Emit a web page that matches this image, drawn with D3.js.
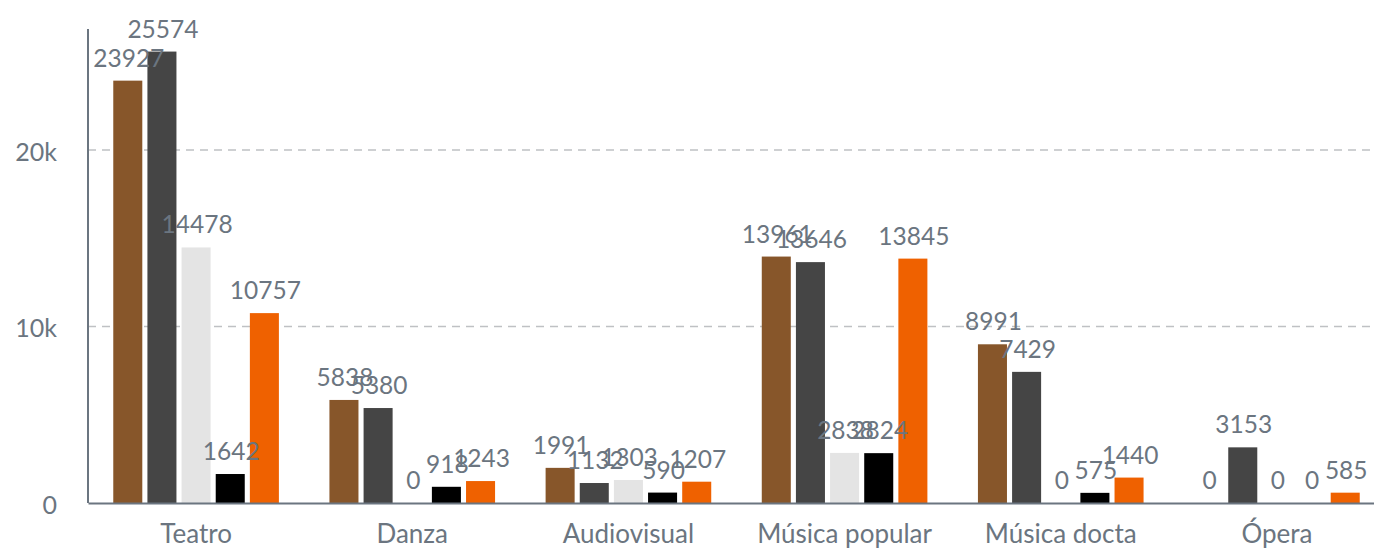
<!DOCTYPE html>
<html>
<head>
<meta charset="utf-8">
<script src="https://cdn.jsdelivr.net/npm/d3@7"></script>
<style>
  html, body { margin: 0; padding: 0; background: #fff; }
  svg { display: block; font-family: Lato, "Open Sans", sans-serif; }
</style>
</head>
<body>
<div id="chart-container"></div>
<script>
// Données du graphique
const categories = ["Teatro", "Danza", "Audiovisual", "Música popular", "Música docta", "Ópera"];
const seriesNames = ["Serie 1", "Serie 2", "Serie 3", "Serie 4", "Serie 5"];
const serie1 = [23927, 5838, 1991, 13961, 8991, 0];
const serie2 = [25574, 5380, 1132, 13646, 7429, 3153];
const serie3 = [14478, 0, 1303, 2838, 0, 0];
const serie4 = [1642, 918, 590, 2824, 575, 0];
const serie5 = [10757, 1243, 1207, 13845, 1440, 585];
const seriesValues = [serie1, serie2, serie3, serie4, serie5];
const yTicks = [0, 10000, 20000];
const colors = ["#87562a", "#454545", "#e4e4e4", "#000000", "#ef6100"];

function drawChart() {
    const width = 1374, height = 549;
    const margin = { top: 29, right: -11, bottom: 46, left: 88 };
    const textColor = "#6b7580";

    const svg = d3.select("#chart-container")
        .append("svg")
        .attr("width", width)
        .attr("height", height);

    const maxVal = d3.max(seriesValues.flat());

    const y = d3.scaleLinear()
        .domain([0, maxVal * 1.05])
        .range([height - margin.bottom, margin.top]);

    const x0 = d3.scaleBand()
        .domain(categories)
        .range([margin.left, width - margin.right])
        .padding(0);

    const x1 = d3.scaleBand()
        .domain(seriesNames)
        .range([0, x0.bandwidth()])
        .paddingInner(0.15)
        .paddingOuter(0.74);

    // Grille
    svg.append("g")
        .selectAll("line")
        .data(yTicks.filter(t => t > 0))
        .enter().append("line")
        .attr("x1", margin.left)
        .attr("x2", width)
        .attr("y1", d => y(d))
        .attr("y2", d => y(d))
        .attr("stroke", "#bfc1c4")
        .attr("stroke-width", 1.5)
        .attr("stroke-dasharray", "8,6");

    // Axe Y
    const yAxis = svg.append("g")
        .attr("transform", "translate(" + margin.left + ",0)")
        .call(d3.axisLeft(y).tickValues(yTicks).tickFormat(d3.format("~s")).tickSize(0).tickPadding(31));
    yAxis.select(".domain").attr("stroke", textColor).attr("stroke-width", 2)
        .attr("d", "M0," + y.range()[1] + "V" + y.range()[0]);
    yAxis.selectAll("text")
        .attr("fill", textColor)
        .attr("dy", "0.42em")
        .style("font-size", "25px")
        .style("font-family", "Lato, sans-serif");

    // Barres
    const data = [];
    categories.forEach((c, i) => {
        seriesNames.forEach((s, j) => data.push({ cat: c, serie: s, j: j, value: seriesValues[j][i] }));
    });

    svg.append("g")
        .selectAll("rect")
        .data(data)
        .enter().append("rect")
        .attr("x", d => x0(d.cat) + x1(d.serie))
        .attr("y", d => y(d.value))
        .attr("width", x1.bandwidth())
        .attr("height", d => y(0) - y(d.value))
        .attr("fill", d => colors[d.j]);

    // Étiquettes au-dessus des barres
    svg.append("g")
        .selectAll("text")
        .data(data)
        .enter().append("text")
        .attr("x", d => x0(d.cat) + x1(d.serie) + x1.bandwidth() / 2 + 1)
        .attr("y", d => y(d.value) - 14)
        .attr("text-anchor", "middle")
        .attr("fill", textColor)
        .style("font-size", "24.5px")
        .text(d => d.value);

    // Axe X
    const xAxis = svg.append("g")
        .attr("transform", "translate(0," + y(0) + ")")
        .call(d3.axisBottom(x0).tickSize(0).tickPadding(22));
    xAxis.select(".domain").attr("stroke", textColor).attr("stroke-width", 2);
    xAxis.selectAll("text")
        .attr("fill", textColor)
        .style("font-size", "26px")
        .style("font-family", "Lato, sans-serif");
}

document.addEventListener("DOMContentLoaded", drawChart);
</script>
</body>
</html>
